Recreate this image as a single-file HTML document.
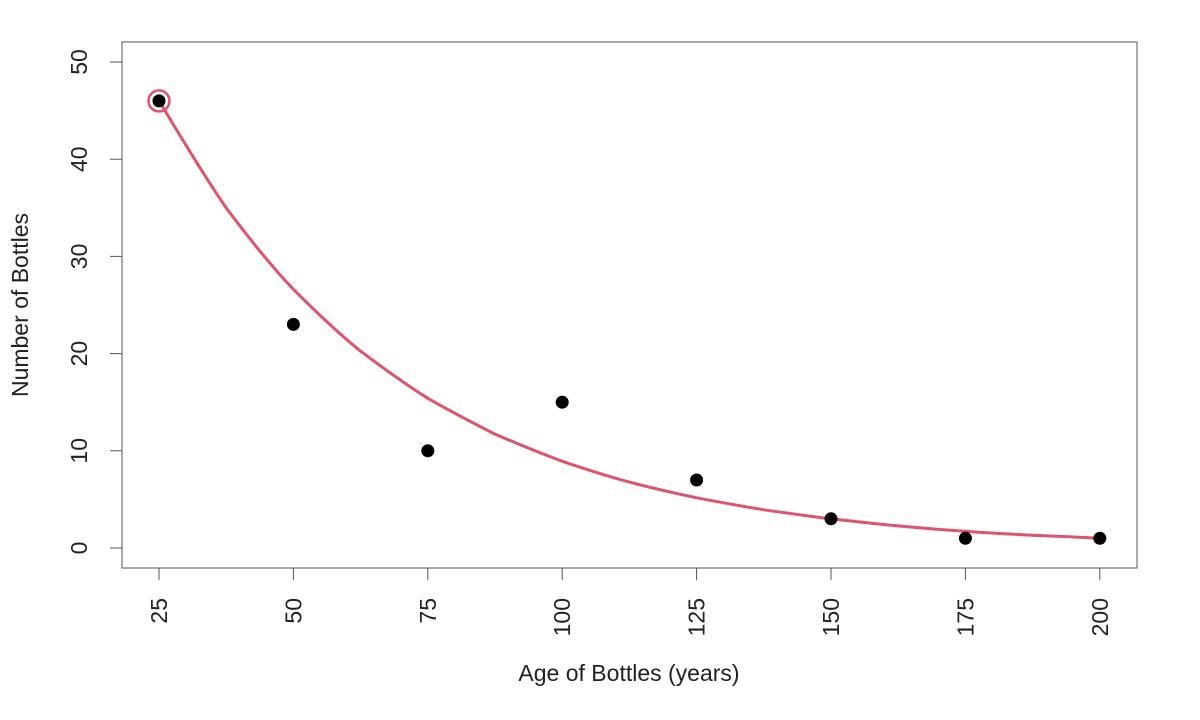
<!DOCTYPE html>
<html><head><meta charset="utf-8"><style>body{margin:0;background:#fff}svg{display:block}text{font-family:"Liberation Sans",sans-serif;font-size:23px;fill:#222}</style></head>
<body>
<svg width="1200" height="720" viewBox="0 0 1200 720">
<rect x="122" y="42" width="1015" height="526" fill="none" stroke="#555" stroke-width="1"/>
<g stroke="#555" stroke-width="1">
<line x1="122" y1="62" x2="122" y2="548"/>
<line x1="110" y1="548" x2="122" y2="548"/><line x1="110" y1="450.8" x2="122" y2="450.8"/><line x1="110" y1="353.6" x2="122" y2="353.6"/><line x1="110" y1="256.4" x2="122" y2="256.4"/><line x1="110" y1="159.2" x2="122" y2="159.2"/><line x1="110" y1="62" x2="122" y2="62"/>
<line x1="159" y1="568" x2="1100" y2="568"/>
<line x1="159" y1="568" x2="159" y2="580"/><line x1="293.4" y1="568" x2="293.4" y2="580"/><line x1="427.8" y1="568" x2="427.8" y2="580"/><line x1="562.2" y1="568" x2="562.2" y2="580"/><line x1="696.6" y1="568" x2="696.6" y2="580"/><line x1="831" y1="568" x2="831" y2="580"/><line x1="965.4" y1="568" x2="965.4" y2="580"/><line x1="1099.8" y1="568" x2="1099.8" y2="580"/>
</g>
<g text-anchor="middle">
<text transform="translate(87,548) rotate(-90)">0</text>
<text transform="translate(87,450.8) rotate(-90)">10</text>
<text transform="translate(87,353.6) rotate(-90)">20</text>
<text transform="translate(87,256.4) rotate(-90)">30</text>
<text transform="translate(87,159.2) rotate(-90)">40</text>
<text transform="translate(87,62) rotate(-90)">50</text>
</g>
<g text-anchor="end">
<text transform="translate(167,598) rotate(-90)">25</text>
<text transform="translate(301.4,598) rotate(-90)">50</text>
<text transform="translate(435.8,598) rotate(-90)">75</text>
<text transform="translate(570.2,598) rotate(-90)">100</text>
<text transform="translate(704.6,598) rotate(-90)">125</text>
<text transform="translate(839,598) rotate(-90)">150</text>
<text transform="translate(973.4,598) rotate(-90)">175</text>
<text transform="translate(1107.8,598) rotate(-90)">200</text>
</g>
<text x="629" y="681" text-anchor="middle">Age of Bottles (years)</text>
<text transform="translate(28,305) rotate(-90)" text-anchor="middle">Number of Bottles</text>
<path d="M159,100.9 C181,137 204,176 226.2,207.9 C248,237 271,266 293.4,289.3 C316,312 338,333 360.6,351.2 C383,368 405,384 427.8,398.3 C450,411 473,423 495,434.1 C518,444 540,453 562.2,461.3 C585,469 607,476 629.4,482.1 C652,488 674,493 696.6,497.8 C719,502 741,506 763.8,509.8 C786,513 808,516 831,519 C853,521 876,524 898.2,525.9 C921,528 943,530 965.4,531.2 C988,533 1010,534 1032.6,535.2 C1055,536 1077,537 1099.8,538.3" fill="none" stroke="#df536b" stroke-width="3"/>
<g fill="#000">
<circle cx="159" cy="100.9" r="6.5"/><circle cx="293.4" cy="324.4" r="6.5"/><circle cx="427.8" cy="450.8" r="6.5"/><circle cx="562.2" cy="402.2" r="6.5"/><circle cx="696.6" cy="480" r="6.5"/><circle cx="831" cy="518.8" r="6.5"/><circle cx="965.4" cy="538.3" r="6.5"/><circle cx="1099.8" cy="538.3" r="6.5"/>
</g>
<circle cx="159" cy="100.9" r="10.5" fill="none" stroke="#df536b" stroke-width="2.5"/>
</svg>
</body></html>
